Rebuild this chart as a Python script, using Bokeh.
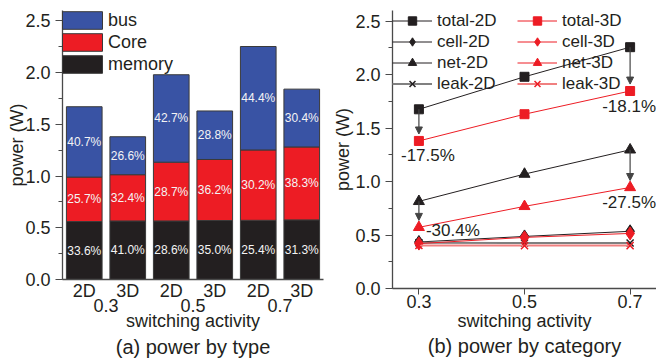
from bokeh.plotting import figure
from bokeh.models import (ColumnDataSource, Legend, LegendItem, Range1d, LinearAxis,
                          SingleIntervalTicker, FixedTicker, Arrow, NormalHead, Label, Title,
                          PrintfTickFormatter)
from bokeh.layouts import row
from bokeh.core.properties import value
from bokeh.embed import file_html
from bokeh.resources import INLINE

# ---------------- data: (a) power by type ----------------
activity = ["0.3", "0.5", "0.7"]
dims = ["2D", "3D"]
memory = [0.56, 0.566, 0.566, 0.57, 0.572, 0.576]
core = [0.43, 0.447, 0.568, 0.59, 0.68, 0.705]
bus = [0.68, 0.367, 0.845, 0.469, 1.0, 0.559]
memory_pct = ["33.6%", "41.0%", "28.6%", "35.0%", "25.4%", "31.3%"]
core_pct = ["25.7%", "32.4%", "28.7%", "36.2%", "30.2%", "38.3%"]
bus_pct = ["40.7%", "26.6%", "42.7%", "28.8%", "44.4%", "30.4%"]

# ---------------- data: (b) power by category ----------------
sa = [0.3, 0.5, 0.7]
total_2d = [1.676, 1.98, 2.257]
total_3d = [1.38, 1.63, 1.847]
cell_2d = [0.435, 0.487, 0.535]
cell_3d = [0.42, 0.478, 0.515]
net_2d = [0.815, 1.07, 1.297]
net_3d = [0.572, 0.768, 0.945]
leak_2d = [0.428, 0.426, 0.425]
leak_3d = [0.402, 0.401, 0.401]
reduction_text = ["-17.5%", "-18.1%", "-30.4%", "-27.5%"]

FONT = "Liberation Sans"
TXT = "#231f20"
AX = "#4a4a4a"
BLUE = "#3953a4"
RED = "#ed1c24"
BLACK = "#231f20"


def style_axis(ax):
    ax.axis_line_color = AX
    ax.axis_line_width = 1.3
    ax.major_tick_line_color = AX
    ax.minor_tick_line_color = AX
    ax.major_label_text_font = FONT
    ax.major_label_text_font_size = "18px"
    ax.major_label_text_color = TXT
    ax.axis_label_text_font = FONT
    ax.axis_label_text_font_size = "18px"
    ax.axis_label_text_font_style = "normal"
    ax.axis_label_text_color = TXT


def style_y(p, label_standoff):
    ya = p.yaxis[0]
    style_axis(ya)
    ya.ticker = SingleIntervalTicker(interval=0.5, num_minor_ticks=2)
    ya.formatter = PrintfTickFormatter(format="%.1f")
    ya.major_tick_out = 7
    ya.major_tick_in = 0
    ya.minor_tick_out = 4
    ya.minor_tick_in = 0
    ya.major_label_standoff = 5
    ya.axis_label = "power (W)"
    ya.axis_label_standoff = label_standoff
    p.grid.visible = False
    p.outline_line_color = None


def add_title(p, text, standoff):
    p.add_layout(Title(text=text, align="center", text_font=FONT, text_font_size="20px",
                       text_font_style="normal", text_color=TXT, standoff=standoff), "below")


# ================= left figure =================
pos = [i + 1 for i in range(len(memory))]
m_top = list(memory)
c_top = [m + c for m, c in zip(memory, core)]
b_top = [m + c + b for m, c, b in zip(memory, core, bus)]
src = ColumnDataSource(dict(
    x=pos, zero=[0] * len(pos), m_top=m_top, c_top=c_top, b_top=b_top,
    m_mid=[t / 2 for t in m_top],
    c_mid=[(a + b) / 2 for a, b in zip(m_top, c_top)],
    b_mid=[(a + b) / 2 for a, b in zip(c_top, b_top)],
    m_pct=memory_pct, c_pct=core_pct, b_pct=bus_pct))

p1 = figure(width=330, height=364, x_range=Range1d(pos[0] - 0.5, pos[-1] + 0.5),
            y_range=Range1d(0, 2.6), output_backend="svg", toolbar_location=None,
            min_border_left=62, min_border_right=7, min_border_top=10, min_border_bottom=85,
            frame_align=False)
style_y(p1, -5)
W = 0.82
r_mem = p1.vbar(x="x", bottom="zero", top="m_top", width=W, source=src,
                fill_color=BLACK, line_color="#3a3a3a", line_width=1)
r_core = p1.vbar(x="x", bottom="m_top", top="c_top", width=W, source=src,
                 fill_color=RED, line_color="#3a3a3a", line_width=1)
r_bus = p1.vbar(x="x", bottom="c_top", top="b_top", width=W, source=src,
                fill_color=BLUE, line_color="#3a3a3a", line_width=1)
for ycol, tcol in (("m_mid", "m_pct"), ("c_mid", "c_pct"), ("b_mid", "b_pct")):
    p1.text(x="x", y=ycol, text=tcol, source=src, text_color="#f4f4f4",
            text_font=value(FONT), text_font_size="12px",
            text_align="center", text_baseline="middle")

# first x-axis row: 2D / 3D
xa = p1.xaxis[0]
style_axis(xa)
dim_labels = [d for a in activity for d in dims]
xa.ticker = FixedTicker(ticks=pos)
xa.major_label_overrides = {p: d for p, d in zip(pos, dim_labels)}
xa.major_tick_line_color = None
xa.minor_tick_line_color = None
xa.major_tick_out = 0
xa.major_tick_in = 0
xa.major_label_standoff = 1

# second x-axis row: activity groups + axis label
group_pos = [(pos[2 * k] + pos[2 * k + 1]) / 2 for k in range(len(activity))]
xa2 = LinearAxis(ticker=FixedTicker(ticks=group_pos),
                 major_label_overrides={g: a for g, a in zip(group_pos, activity)})
style_axis(xa2)
xa2.axis_line_color = None
xa2.major_tick_line_color = None
xa2.minor_tick_line_color = None
xa2.major_tick_out = 0
xa2.major_tick_in = 0
xa2.major_label_standoff = -5
xa2.axis_label = "switching activity"
xa2.axis_label_standoff = -4
p1.add_layout(xa2, "below")
add_title(p1, "(a) power by type", 1)

leg1 = Legend(items=[LegendItem(label="bus", renderers=[r_bus]),
                     LegendItem(label="Core", renderers=[r_core]),
                     LegendItem(label="memory", renderers=[r_mem])],
              location=(-5, 204), glyph_width=50, glyph_height=22, spacing=0,
              label_height=22, padding=0, margin=0, label_standoff=1,
              label_text_font=FONT, label_text_font_size="18px", label_text_color=TXT,
              border_line_alpha=0, background_fill_alpha=0)
p1.add_layout(leg1, "center")

# ================= right figure =================
p2 = figure(width=326, height=364, x_range=Range1d(0.25, 0.75), y_range=Range1d(0, 2.6),
            output_backend="svg", toolbar_location=None,
            min_border_left=62, min_border_right=0, min_border_top=10, min_border_bottom=76,
            frame_align=False)
style_y(p2, -1)
xb = p2.xaxis[0]
style_axis(xb)
xb.ticker = FixedTicker(ticks=sa)
xb.major_tick_out = 6
xb.major_tick_in = 0
xb.minor_tick_line_color = None
xb.major_label_standoff = 0
xb.axis_label = "switching activity"
xb.axis_label_standoff = 0
add_title(p2, "(b) power by category", -1)

series = [
    ("total-2D", total_2d, BLACK, 1, "square", 9, BLACK),
    ("cell-2D", cell_2d, BLACK, 1, "diamond", 13, BLACK),
    ("net-2D", net_2d, BLACK, 1, "triangle", 11, BLACK),
    ("leak-2D", leak_2d, "#808080", 2, "x", 10, BLACK),
    ("total-3D", total_3d, RED, 1, "square", 9, RED),
    ("cell-3D", cell_3d, RED, 1, "diamond", 13, RED),
    ("net-3D", net_3d, RED, 1, "triangle", 11, RED),
    ("leak-3D", leak_3d, "#f08080", 2, "x", 10, RED),
]
items2d, items3d = [], []
for name, ys, lc, lw, mk, ms, mc in series:
    rl = p2.line(sa, ys, line_color=lc, line_width=lw)
    rs = p2.scatter(sa, ys, marker=mk, size=ms, fill_color=mc, line_color=mc,
                    line_width=1.5 if mk == "x" else 1)
    it = LegendItem(label=name, renderers=[rl, rs])
    (items2d if name.endswith("2D") else items3d).append(it)

# arrows 2D -> 3D
arr_x = [sa[0], sa[2], sa[0], sa[2]]
arr_y0 = [total_2d[0], total_2d[2], net_2d[0], net_2d[2]]
arr_y1 = [total_3d[0], total_3d[2], net_3d[0], net_3d[2]]
asrc = ColumnDataSource(dict(x=arr_x, y0=arr_y0, y1=[v + 0.065 for v in arr_y1]))
p2.add_layout(Arrow(end=NormalHead(size=7, fill_color="#444444", line_color="#444444"),
                    x_start="x", y_start="y0", x_end="x", y_end="y1", source=asrc,
                    line_color="#444444", line_width=1.2))

lab_style = [(9, -15, "center"), (-1, -15, "center"), (7, -3, "left"), (-1, -15, "center")]
for (xo, yo, al), xx, yy, tt in zip(lab_style, arr_x, arr_y1, reduction_text):
    p2.add_layout(Label(x=xx, y=yy, text=tt, x_offset=xo, y_offset=yo, text_align=al,
                        text_baseline="middle", text_font=FONT, text_font_size="17px",
                        text_color=TXT))

common = dict(glyph_width=40, glyph_height=21, label_height=21, spacing=0, padding=0,
              margin=0, label_standoff=5, label_text_font=FONT, label_text_font_size="17px",
              label_text_color=TXT, border_line_alpha=0, background_fill_alpha=0)
p2.add_layout(Legend(items=items2d, location=(0, 194), **common), "center")
p2.add_layout(Legend(items=items3d, location=(125, 194), **common), "center")

layout = row(p1, p2)
open("out.html", "w").write(file_html(layout, INLINE))
